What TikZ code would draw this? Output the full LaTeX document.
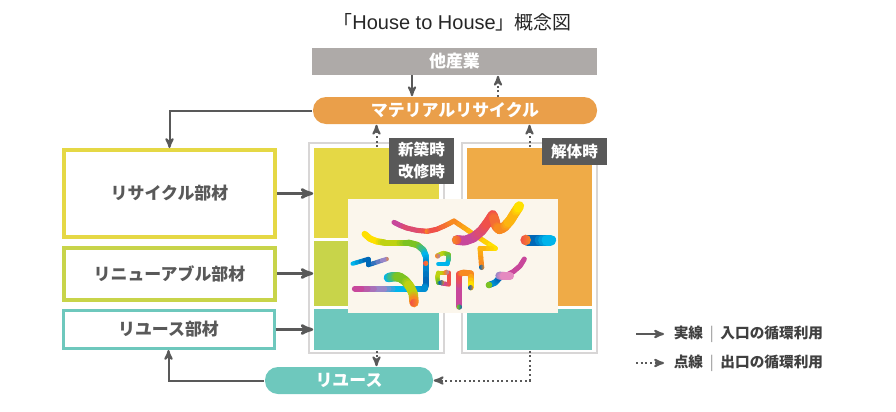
\documentclass[tikz,border=0pt]{standalone}
\usepackage{fontspec}
\setmainfont{Noto Sans CJK JP}
\newfontfamily\latinfont{Liberation Sans}
\usetikzlibrary{arrows,calc}
\definecolor{otherfill}{HTML}{AEAAA8}
\definecolor{orangepill}{HTML}{EA9F4A}
\definecolor{recyclecol}{HTML}{E5D845}
\definecolor{renewcol}{HTML}{C8D44A}
\definecolor{reusecol}{HTML}{6EC8BD}
\definecolor{demolcol}{HTML}{EFAB47}
\definecolor{tagfill}{HTML}{595959}
\definecolor{framecol}{HTML}{D8D6D6}
\definecolor{panelfill}{HTML}{FBF6EC}
\definecolor{linecol}{HTML}{595959}
\definecolor{gMag}{HTML}{C8479B}
\definecolor{gRM}{HTML}{DC4C72}
\definecolor{gRed}{HTML}{F0504A}
\definecolor{gRO}{HTML}{F46D35}
\definecolor{gOrg}{HTML}{F88A20}
\definecolor{gOY}{HTML}{FCB510}
\definecolor{gYel}{HTML}{FFE000}
\definecolor{gYG}{HTML}{BED211}
\definecolor{gGrn}{HTML}{7CC322}
\definecolor{gGC}{HTML}{3EBC87}
\definecolor{gCyn}{HTML}{00B5EC}
\definecolor{gBlu}{HTML}{0068B7}
\definecolor{gCB}{HTML}{008ED2}
\definecolor{gLav}{HTML}{9A86C8}
\definecolor{gPnk}{HTML}{E58AC0}
\def\px{0.75pt}
\def\nonetext{none}
% one stroke of the artwork, colour running from point to point
\newcommand{\ribbon}[2]{%
	\foreach \x/\y/\c [remember=\x as \xa (initially none), remember=\y as \ya (initially 0),
	remember=\c as \ca (initially gMag)] in {#2} {
		\ifx\xa\nonetext\else
		\foreach \t in {0,...,3} {
			\pgfmathsetmacro{\mixa}{100-\t*33}
			\draw[line width=#1*0.25pt, line cap=round, line join=round, color=\ca!\mixa!\c]
			($(\xa,\ya)!\t/4!(\x,\y)$) -- ($(\xa,\ya)!\t/4+1/4!(\x,\y)$);
		}
		\fi
	}%
}
\newcommand{\dotend}[5]{\shade[left color=#4, right color=#5] (#1,#2) circle (#3*0.25pt);}

\begin{document}
\begin{tikzpicture}[x=0.75pt, y=-0.75pt, >=stealth', line width=1.6*\px]
	\tikzstyle{every node}=[inner sep=0pt, align=center]
	\tikzstyle{textbig}=[font=\fontsize{12.7pt}{15pt}\selectfont\bfseries]
	\tikzstyle{block}=[rectangle]
	\tikzstyle{frame}=[draw=framecol, fill=white, line width=1.3*\px, minimum width=135*\px, minimum height=210*\px]
	\tikzstyle{pill}=[rounded corners=13*\px, minimum height=27*\px, text=white, textbig]
	\tikzstyle{partbox}=[draw, fill=white, line width=4*\px, minimum width=211*\px, text=linecol, textbig]
	\tikzstyle{tagbox}=[fill=tagfill, text=white, font=\fontsize{11.7pt}{16.5pt}\selectfont\bfseries]
	\tikzstyle{solidline}=[->, draw=linecol, line width=2*\px]
	\tikzstyle{thickline}=[->, draw=linecol, line width=2.8*\px]
	\tikzstyle{dotline}=[->, draw=linecol, line width=2*\px, dotted]
	\tikzstyle{legendtext}=[anchor=west, text=black!75, font=\fontsize{11pt}{13pt}\selectfont\bfseries]
	\useasboundingbox (0,0) rectangle (896,411);

	\node[font=\fontsize{14.2pt}{17pt}\selectfont, text=black!85] (title) at (452.5,22) {「{\latinfont\fontsize{15pt}{17pt}\selectfont House to House}」概念図};
	\node[block, fill=otherfill, minimum width=285*\px, minimum height=27*\px, text=white, textbig] (other) at (454.5,61.5) {他産業};
	\node[pill, fill=orangepill, minimum width=284*\px] (material) at (455,110.5) {マテリアルリサイクル};

	\node[frame] (frameL) at (376.5,248) {};
	\node[frame] (frameR) at (529.5,248) {};
	\node[block, fill=recyclecol, minimum width=125*\px, minimum height=90*\px] (yellow) at (376.5,193) {};
	\node[block, fill=renewcol, minimum width=125*\px, minimum height=65*\px] (lime) at (376.5,273.5) {};
	\node[block, fill=reusecol, minimum width=125*\px, minimum height=41*\px] (tealL) at (376.5,329.5) {};
	\node[block, fill=demolcol, minimum width=125*\px, minimum height=158*\px] (demol) at (529.5,227) {};
	\node[block, fill=reusecol, minimum width=125*\px, minimum height=41*\px] (tealR) at (529.5,329.5) {};
	\node[block, fill=panelfill, minimum width=210*\px, minimum height=114*\px] (panel) at (453,256) {};
	\node[tagbox, minimum width=65*\px, minimum height=46*\px] (tagnew) at (421.5,161) {新築時\\改修時};
	\node[tagbox, minimum width=65*\px, minimum height=27*\px] (tagdemol) at (574.5,151.5) {解体時};

	\node[partbox, draw=recyclecol, minimum height=87*\px] (recyclebox) at (169.5,193.5) {リサイクル部材};
	\node[partbox, draw=renewcol, minimum height=52*\px] (renewbox) at (169.5,273.5) {リニューアブル部材};
	\node[partbox, draw=reusecol, line width=3*\px, minimum height=38*\px] (reusebox) at (168.5,329.5) {リユース部材};
	\node[pill, fill=reusecol, minimum width=168*\px] (reuse) at (349,380.5) {リユース};

	\coordinate (downin) at (412,75);
	\coordinate (upout) at (498,97);
	\path (downin) edge[solidline] (downin |- material.north);
	\path (upout) edge[dotline] (upout |- other.south);
	\path (yellow.north) edge[dotline] (yellow.north |- material.south);
	\path (demol.north) edge[dotline] (demol.north |- material.south);
	\draw[solidline] (material.west) -| (recyclebox.north);
	\draw[solidline] (reuse.west) -| (reusebox.south);
	\path (recyclebox.east) edge[thickline] (recyclebox.east -| yellow.west);
	\path (renewbox.east) edge[thickline] (renewbox.east -| lime.west);
	\path (reusebox.east) edge[thickline] (reusebox.east -| tealL.west);
	\path (tealL.south) edge[dotline] (tealL.south |- reuse.north);
	\draw[dotline] (tealR.south) |- (reuse.east);

	% artwork on the panel, in 3x crop units
	\begin{scope}[shift={(340,190)}, x=0.25pt, y=-0.25pt]
		\ribbon{19}{74/132/gYel, 90/146/gYel, 110/154/gYel, 135/158/gYG, 170/158/gYG, 205/158/gGrn, 232/165/gGrn, 250/180/gGC, 257/198/gCyn, 257/220/gCB, 257/285/gBlu, 254/296/gCB, 170/296/gCyn, 120/296/gLav, 45/296/gMag}
		\ribbon{13}{38/221/gCyn, 85/207/gBlu, 85/225/gBlu, 140/207/gLav}
		\ribbon{28}{145/263/gCyn, 160/260/gGC, 178/261/gGrn, 195/272/gGrn, 210/290/gYG, 220/312/gYG, 222/338/gOrg}
		\ribbon{15}{162/97/gMag, 180/106/gMag, 200/114/gRM, 230/121/gRM, 262/124/gRed, 290/118/gRed, 315/107/gRO, 342/93/gOrg, 400/132/gOY, 466/175/gYel, 420/175/gOY, 425/232/gOrg}
		\ribbon{29}{350/150/gMag, 375/152/gMag, 400/143/gMag, 425/122/gRM, 445/95/gRed, 458/75/gRed, 464/90/gRO, 468/108/gRO, 478/118/gOrg, 492/112/gOrg, 510/92/gOY, 525/68/gOY, 538/48/gYel}
		\ribbon{33}{562/150/gBlu, 590/150/gBlu, 632/150/gCyn}
		\ribbon{13}{293/196/gYG, 310/189/gYG, 325/193/gGrn, 325/210/gGC, 322/222/gCyn, 295/222/gCyn}
		\ribbon{13}{318/248/gOrg, 295/248/gYG, 292/262/gYG, 295/278/gGrn, 305/278/gBlu}
		\ribbon{13}{318/248/gOrg, 326/248/gRed, 326/283/gRed, 305/280/gMag}
		\ribbon{18}{358/350/gMag, 358/295/gMag, 358/252/gRed, 370/248/gOrg, 392/250/gOrg, 392/292/gYel}
		\ribbon{18}{447/285/gBlu, 465/278/gCB, 480/262/gBlu}
		\ribbon{15}{495/258/gMag, 520/245/gMag, 540/228/gMag, 553/207/gMag}
		\ribbon{24}{478/257/gLav, 495/258/gPnk, 510/258/gPnk}
		\dotend{262}{124}{8}{gOrg}{gRed}
		\dotend{350}{150}{14}{gOrg}{gRed}
		\dotend{557}{150}{16}{gRed}{gOrg}
		\dotend{257}{220}{8}{gRed}{gOrg}
		\dotend{140}{207}{6}{gLav}{gOrg}
		\dotend{222}{338}{12}{gRed}{gOrg}
		\dotend{293}{198}{8}{gOrg}{gLav}
		\dotend{319}{247}{8}{gOrg}{gLav}
		\dotend{305}{278}{8}{gBlu}{gOrg}
		\dotend{358}{351}{8}{gGrn}{gBlu}
		\dotend{392}{293}{8}{gBlu}{gOrg}
		\dotend{425}{232}{8}{gBlu}{gOrg}
		\dotend{447}{285}{10}{gGrn}{gGrn}
	\end{scope}

	\node[legendtext] (legsolid) at (673,334) {実線\hspace{5pt}{\mdseries\color{black!45}|}\hspace{5pt}入口の循環利用};
	\node[legendtext] (legdot) at (673,363) {点線\hspace{5pt}{\mdseries\color{black!45}|}\hspace{5pt}出口の循環利用};
	\coordinate (legsolidstart) at (636,334);
	\coordinate (legdotstart) at (636,363);
	\path (legsolidstart) edge[solidline] ([xshift=-9*\px]legsolid.west);
	\path (legdotstart) edge[dotline] ([xshift=-9*\px]legdot.west);
\end{tikzpicture}
\end{document}
